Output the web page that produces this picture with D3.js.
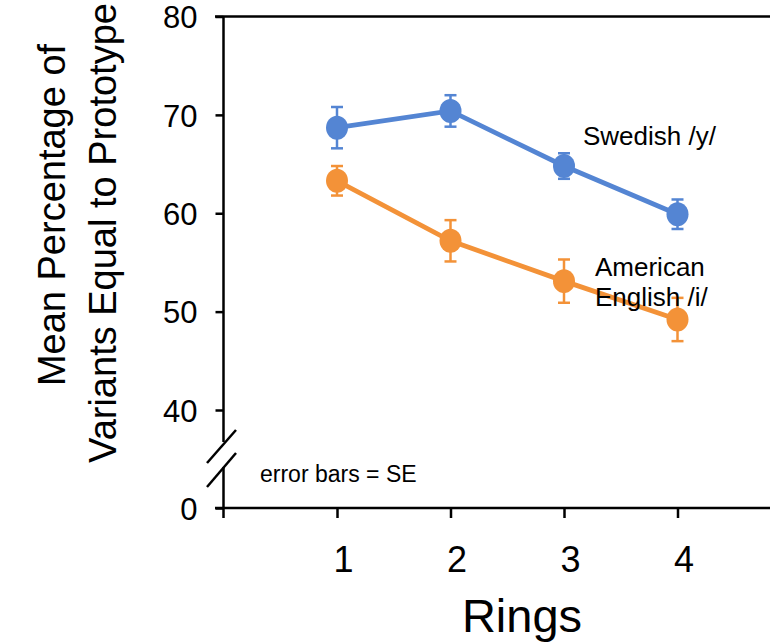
<!DOCTYPE html>
<html><head><meta charset="utf-8">
<script src="https://cdn.jsdelivr.net/npm/d3@7/dist/d3.min.js"></script>
<style>body{margin:0;background:#fff;font-family:"Liberation Sans",Arial,sans-serif}</style>
</head><body><svg id="c" width="770" height="642"></svg>
<script>
const rings = [1, 2, 3, 4];
const swedish = [68.7, 70.4, 64.8, 59.9];
const swedishSE = [2.1, 1.6, 1.3, 1.5];
const american = [63.3, 57.2, 53.1, 49.2];
const americanSE = [1.5, 2.1, 2.2, 2.2];
const yTicks = [0, 40, 50, 60, 70, 80];

const svg = d3.select("#c");
const x = d3.scaleLinear().domain([0, 5]).range([223.5, 791]);
const y = d3.scaleLinear().domain([0, 40, 80]).range([508, 410, 16.5]);
const blue = "#5485d3", orange = "#f39238";
const font = "Liberation Sans, Arial, sans-serif";

// top border
svg.append("line").attr("x1", 215).attr("x2", 770).attr("y1", y(80)).attr("y2", y(80))
  .attr("stroke", "#000").attr("stroke-width", 2.5);
// y axis line with break
svg.append("line").attr("x1", x(0)).attr("x2", x(0)).attr("y1", y(80)).attr("y2", 442)
  .attr("stroke", "#000").attr("stroke-width", 2.5);
svg.append("line").attr("x1", x(0)).attr("x2", x(0)).attr("y1", 467).attr("y2", 518)
  .attr("stroke", "#000").attr("stroke-width", 2.5);
// break slashes
[[207,463,236,430],[207,487,236,453]].forEach(d=>{
  svg.append("line").attr("x1",d[0]).attr("y1",d[1]).attr("x2",d[2]).attr("y2",d[3])
    .attr("stroke","#000").attr("stroke-width",2.5);
});
// y ticks
const yAxis = svg.append("g").attr("transform", `translate(${x(0)},0)`)
  .call(d3.axisLeft(y).tickValues(yTicks).tickSize(8).tickFormat(d3.format("d")));
yAxis.select(".domain").remove();
yAxis.selectAll(".tick line").attr("stroke", "#000").attr("stroke-width", 2.5);
yAxis.selectAll(".tick text").attr("font-size", 31).attr("font-family", font)
  .attr("fill", "#000").attr("x", -26).attr("dy", "0.36em");

// x axis
svg.append("line").attr("x1", 215).attr("x2", 770).attr("y1", y(0)).attr("y2", y(0))
  .attr("stroke", "#000").attr("stroke-width", 2.5);
const xAxis = svg.append("g").attr("transform", `translate(0,${y(0)})`)
  .call(d3.axisBottom(x).tickValues(rings).tickSize(10).tickFormat(d3.format("d")));
xAxis.select(".domain").remove();
xAxis.selectAll(".tick line").attr("stroke", "#000").attr("stroke-width", 2.5);
xAxis.selectAll(".tick text").attr("font-size", 36).attr("font-family", font)
  .attr("fill", "#000").attr("x", 6).attr("y", 64).attr("dy", null);

function series(vals, se, color) {
  const g = svg.append("g");
  g.append("path").datum(vals)
    .attr("d", d3.line().x((d, i) => x(rings[i])).y(d => y(d)))
    .attr("fill", "none").attr("stroke", color).attr("stroke-width", 4.8);
  vals.forEach((v, i) => {
    const cx = x(rings[i]);
    g.append("line").attr("x1", cx).attr("x2", cx).attr("y1", y(v + se[i])).attr("y2", y(v - se[i]))
      .attr("stroke", color).attr("stroke-width", 2.5);
    [v + se[i], v - se[i]].forEach(e => {
      g.append("line").attr("x1", cx - 6).attr("x2", cx + 6).attr("y1", y(e)).attr("y2", y(e))
        .attr("stroke", color).attr("stroke-width", 2.5);
    });
    g.append("ellipse").attr("cx", cx).attr("cy", y(v)).attr("rx", 11).attr("ry", 12).attr("fill", color);
  });
}
series(swedish, swedishSE, blue);
series(american, americanSE, orange);

svg.append("text").attr("x", 583).attr("y", 145).attr("font-size", 26).attr("font-family", font).text("Swedish /y/");
svg.append("text").attr("x", 595).attr("y", 276).attr("font-size", 26).attr("font-family", font).text("American");
svg.append("text").attr("x", 595).attr("y", 306).attr("font-size", 26).attr("font-family", font).text("English /i/");
svg.append("text").attr("x", 260).attr("y", 482).attr("font-size", 23).attr("font-family", font).text("error bars = SE");

svg.append("text").attr("x", 522).attr("y", 632).attr("text-anchor", "middle").attr("font-size", 47)
  .attr("font-family", font).text("Rings");
const yt = svg.append("text").attr("transform", "rotate(-90)").attr("text-anchor", "middle")
  .attr("font-size", 38).attr("font-family", font);
yt.append("tspan").attr("x", -215).attr("y", 65).text("Mean Percentage of");
yt.append("tspan").attr("x", -233).attr("y", 116).text("Variants Equal to Prototype");
</script></body></html>
